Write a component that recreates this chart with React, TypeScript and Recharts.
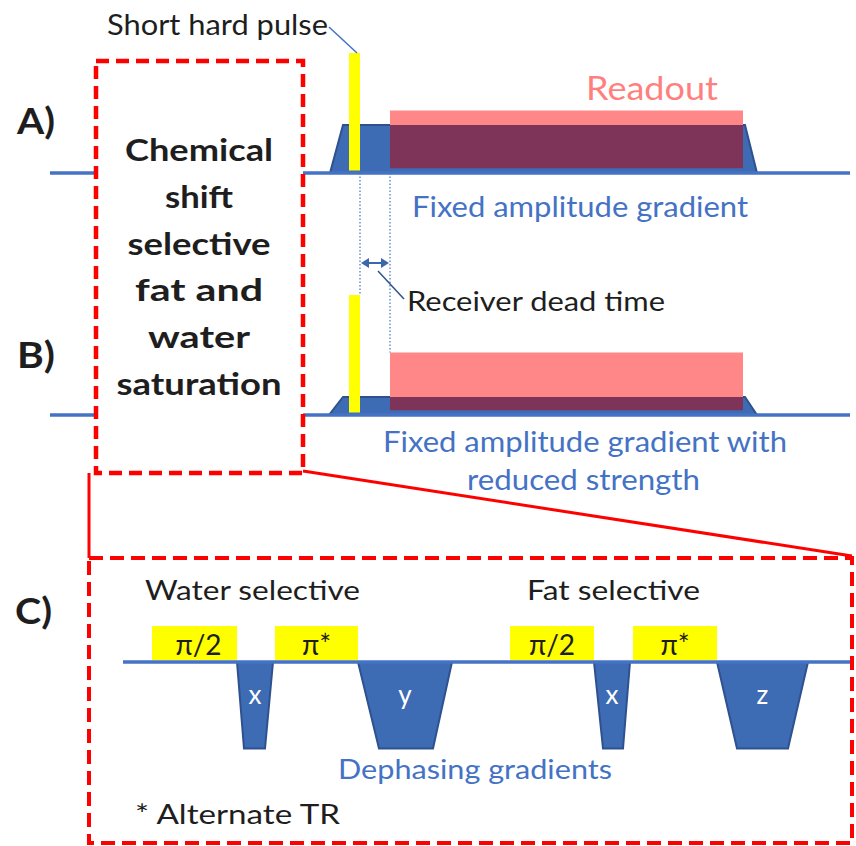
import React from "react";
import { ComposedChart, Area, Line, XAxis, YAxis } from "recharts";

const W = 856;
const H = 846;
const UNIT = 48; // px per gradient-amplitude unit
const BASE: Record<string, number> = { A: 173, B: 415, C: 662 };

const BLUE = "#4472C4";
const GRAD_FILL = "#3D6BB4";
const GRAD_EDGE = "#2F528F";
const YELLOW = "#FFFF00";
const PINK = "#FF8787";
const MAROON = "#7E3459";
const RED = "#FF0000";
const INK = "#1E1E1E";
const FONT = "Lato, 'Open Sans', sans-serif";

// ---- sequence data (time along the shared axis, amplitude in gradient units)
const baselineSpansAB = [
  [50, 95],
  [303, 850],
];
const baselineSpanC = [123, 850];

const gradientA = [
  { t: 330, g: 0 },
  { t: 343, g: 1 },
  { t: 745, g: 1 },
  { t: 757, g: 0 },
];
const gradientB = [
  { t: 329, g: 0 },
  { t: 343, g: 0.375 },
  { t: 745, g: 0.375 },
  { t: 757, g: 0 },
];
const hardPulseTimes = [349, 360];
const hardPulseAmp = [0.05, 2.5];
const readoutTimes = [390, 743];
const readoutAmp = [0.1, 1.3];
const gradientTop = { A: 1, B: 0.375 };

const rfLabels = ["π/2", "π*", "π/2", "π*"];
const rfStart = [152, 275, 510, 633];
const rfEnd = [237, 358, 594, 717];
const rfAmp = [0.04, 0.75];

const spoilerLabels = ["x", "y", "x", "z"];
const spoilerTimes = [
  [237, 244, 265, 273],
  [358, 379, 433, 452],
  [594, 603, 623, 630],
  [717, 737, 788, 808],
];
const spoilerAmp = -1.8;

const blockLabels = ["Water selective", "Fat selective"];
const boxLines = ["Chemical", "shift", "selective", "fat and", "water", "saturation"];
const boxLineWidths = [148, 68, 143, 128, 102, 165];

// helpers
const yDomain = (p: string): [number, number] => [(BASE[p] - H) / UNIT, BASE[p] / UNIT];
const toA = (panel: string, v: number) => (BASE.A - (BASE[panel] - v * UNIT)) / UNIT;
const px = (panel: string, v: number) => BASE[panel] - v * UNIT;
const rect = (t: number[], lo: number, hi: number) =>
  t.map((tt) => ({ t: tt, r: [lo, hi] }));

type Txt = {
  s: string;
  x: number;
  y: number;
  size: number;
  w?: number;
  color?: string;
  bold?: boolean;
  anchor?: "start" | "middle" | "end";
};

const T = ({ s, x, y, size, w, color = INK, bold, anchor = "start" }: Txt) => (
  <text
    x={x}
    y={y}
    fontSize={size}
    fontFamily={FONT}
    fontWeight={bold ? 700 : 400}
    fill={color}
    textAnchor={anchor}
    {...(w ? { textLength: w, lengthAdjust: "spacingAndGlyphs" } : {})}
  >
    {s}
  </text>
);

// annotation layer drawn above the chart
function Notes() {
  const arrowY = 263;
  const x0 = hardPulseTimes[1];
  const x1 = readoutTimes[0];
  return (
    <svg
      width={W}
      height={H}
      style={{ position: "absolute", left: 0, top: 0, pointerEvents: "none" }}
    >
      {/* red saturation box and zoom lines */}
      <rect x={96} y={61} width={207} height={412} fill="none" stroke={RED} strokeWidth={4.5} strokeDasharray="13 7" />
      <rect x={89} y={558} width={763} height={285} fill="none" stroke={RED} strokeWidth={4} strokeDasharray="14 7" />
      <line x1={89} y1={473} x2={89} y2={558} stroke={RED} strokeWidth={3} />
      <line x1={303} y1={471} x2={852} y2={556} stroke={RED} strokeWidth={3} />

      {/* pointers */}
      <line x1={329} y1={27} x2={357} y2={53} stroke={BLUE} strokeWidth={1.5} />
      <line x1={378} y1={271} x2={404} y2={299} stroke={GRAD_EDGE} strokeWidth={1.5} />

      {/* dead time arrow */}
      <line x1={x0 + 5} y1={arrowY} x2={x1 - 5} y2={arrowY} stroke="#3B66AE" strokeWidth={2} />
      <polygon points={`${x0 + 1},${arrowY} ${x0 + 9},${arrowY - 5} ${x0 + 9},${arrowY + 5}`} fill="#3B66AE" />
      <polygon points={`${x1 - 1},${arrowY} ${x1 - 9},${arrowY - 5} ${x1 - 9},${arrowY + 5}`} fill="#3B66AE" />

      <T s="Short hard pulse" x={107} y={35} size={28} w={221} />
      <T s="A)" x={17} y={134} size={36} w={38} bold />
      <T s="B)" x={17} y={368} size={36} w={38} bold />
      <T s="C)" x={15} y={624} size={36} w={37} bold />
      {boxLines.map((s, i) => (
        <T key={i} s={s} x={199} y={161 + 46.8 * i} size={31} w={boxLineWidths[i]} bold anchor="middle" />
      ))}
      <T s="Readout" x={586} y={100} size={33} w={132} color="#FF7F7F" />
      <T s="Fixed amplitude gradient" x={412} y={217} size={28} w={336} color={BLUE} />
      <T s="Receiver dead time" x={407} y={311} size={26} w={258} />
      <T s="Fixed amplitude gradient with" x={383} y={452} size={28} w={404} color={BLUE} />
      <T s="reduced strength" x={467} y={490} size={28} w={233} color={BLUE} />
      <T s={blockLabels[0]} x={145} y={600} size={27} w={215} />
      <T s={blockLabels[1]} x={527} y={600} size={27} w={173} />
      {rfLabels.map((s, i) => (
        <T key={s + i} s={s} x={(rfStart[i] + rfEnd[i]) / 2 + (i === 0 ? 4 : 0)} y={px("C", 0) - 7} size={28} anchor="middle" />
      ))}
      {spoilerLabels.map((s, i) => (
        <T
          key={s + i}
          s={s}
          x={(spoilerTimes[i][0] + spoilerTimes[i][3]) / 2}
          y={704}
          size={26}
          color="#FFFFFF"
          anchor="middle"
        />
      ))}
      <T s="Dephasing gradients" x={338} y={779} size={27} w={274} color={BLUE} />
      <T s="* Alternate TR" x={135} y={824} size={26} w={205} />
    </svg>
  );
}

export default function App() {
  const common = { isAnimationActive: false, dot: false, activeDot: false, type: "linear" as const };
  return (
    <div style={{ position: "absolute", left: 0, top: 0, width: W, height: H, background: "#fff" }}>
      <ComposedChart width={W} height={H} margin={{ top: 0, right: 0, bottom: 0, left: 0 }}>
        <XAxis type="number" dataKey="t" domain={[0, W]} hide allowDataOverflow />
        {["A", "B", "C"].map((p) => (
          <YAxis key={p} yAxisId={p} type="number" domain={yDomain(p)} hide allowDataOverflow />
        ))}

        {/* baselines */}
        {["A", "B"].flatMap((p) =>
          baselineSpansAB.map((span, i) => (
            <Line
              key={p + i}
              {...common}
              yAxisId={p}
              data={span.map((t) => ({ t, v: 0 }))}
              dataKey="v"
              stroke={BLUE}
              strokeWidth={3.5}
            />
          ))
        )}
        <Line
          {...common}
          yAxisId="C"
          data={baselineSpanC.map((t) => ({ t, v: 0 }))}
          dataKey="v"
          stroke={BLUE}
          strokeWidth={3.5}
        />

        {/* dotted timing guides from panel A down to panel B */}
        <Line
          {...common}
          yAxisId="A"
          data={[
            { t: hardPulseTimes[1], v: 0 },
            { t: hardPulseTimes[1], v: toA("B", hardPulseAmp[1]) },
          ]}
          dataKey="v"
          stroke={BLUE}
          strokeWidth={1.2}
          strokeDasharray="1.5 2"
        />
        <Line
          {...common}
          yAxisId="A"
          data={[
            { t: readoutTimes[0], v: 0 },
            { t: readoutTimes[0], v: toA("B", readoutAmp[1]) },
          ]}
          dataKey="v"
          stroke={BLUE}
          strokeWidth={1.2}
          strokeDasharray="1.5 2"
        />

        {/* readout gradients */}
        <Area {...common} yAxisId="A" data={gradientA} dataKey="g" baseValue={0} fill={GRAD_FILL} fillOpacity={1} stroke={GRAD_EDGE} strokeWidth={2} />
        <Area {...common} yAxisId="B" data={gradientB} dataKey="g" baseValue={0} fill={GRAD_FILL} fillOpacity={1} stroke={GRAD_EDGE} strokeWidth={2} />

        {/* hard pulses */}
        {["A", "B"].map((p) => (
          <Area
            key={"hp" + p}
            {...common}
            yAxisId={p}
            data={rect(hardPulseTimes, hardPulseAmp[0], hardPulseAmp[1])}
            dataKey="r"
            fill={YELLOW}
            fillOpacity={1}
            stroke="none"
          />
        ))}

        {/* readout windows */}
        {(["A", "B"] as const).map((p) => (
          <Area
            key={"ro" + p}
            {...common}
            yAxisId={p}
            data={rect(readoutTimes, gradientTop[p], readoutAmp[1])}
            dataKey="r"
            fill={PINK}
            fillOpacity={1}
            stroke="none"
          />
        ))}
        {(["A", "B"] as const).map((p) => (
          <Area
            key={"rm" + p}
            {...common}
            yAxisId={p}
            data={rect(readoutTimes, readoutAmp[0], gradientTop[p])}
            dataKey="r"
            fill={MAROON}
            fillOpacity={1}
            stroke="none"
          />
        ))}

        {/* panel C: RF pulses */}
        {rfLabels.map((s, i) => (
          <Area
            key={"rf" + i}
            {...common}
            yAxisId="C"
            data={rect([rfStart[i], rfEnd[i]], rfAmp[0], rfAmp[1])}
            dataKey="r"
            fill={YELLOW}
            fillOpacity={1}
            stroke="none"
          />
        ))}

        {/* panel C: dephasing gradients */}
        {spoilerTimes.map((ts, i) => (
          <Area
            key={"sp" + i}
            {...common}
            yAxisId="C"
            data={ts.map((t, j) => ({ t, g: j === 0 || j === 3 ? 0 : spoilerAmp }))}
            dataKey="g"
            baseValue={0}
            fill={GRAD_FILL}
            fillOpacity={1}
            stroke={GRAD_EDGE}
            strokeWidth={2}
          />
        ))}
      </ComposedChart>
      <Notes />
    </div>
  );
}
